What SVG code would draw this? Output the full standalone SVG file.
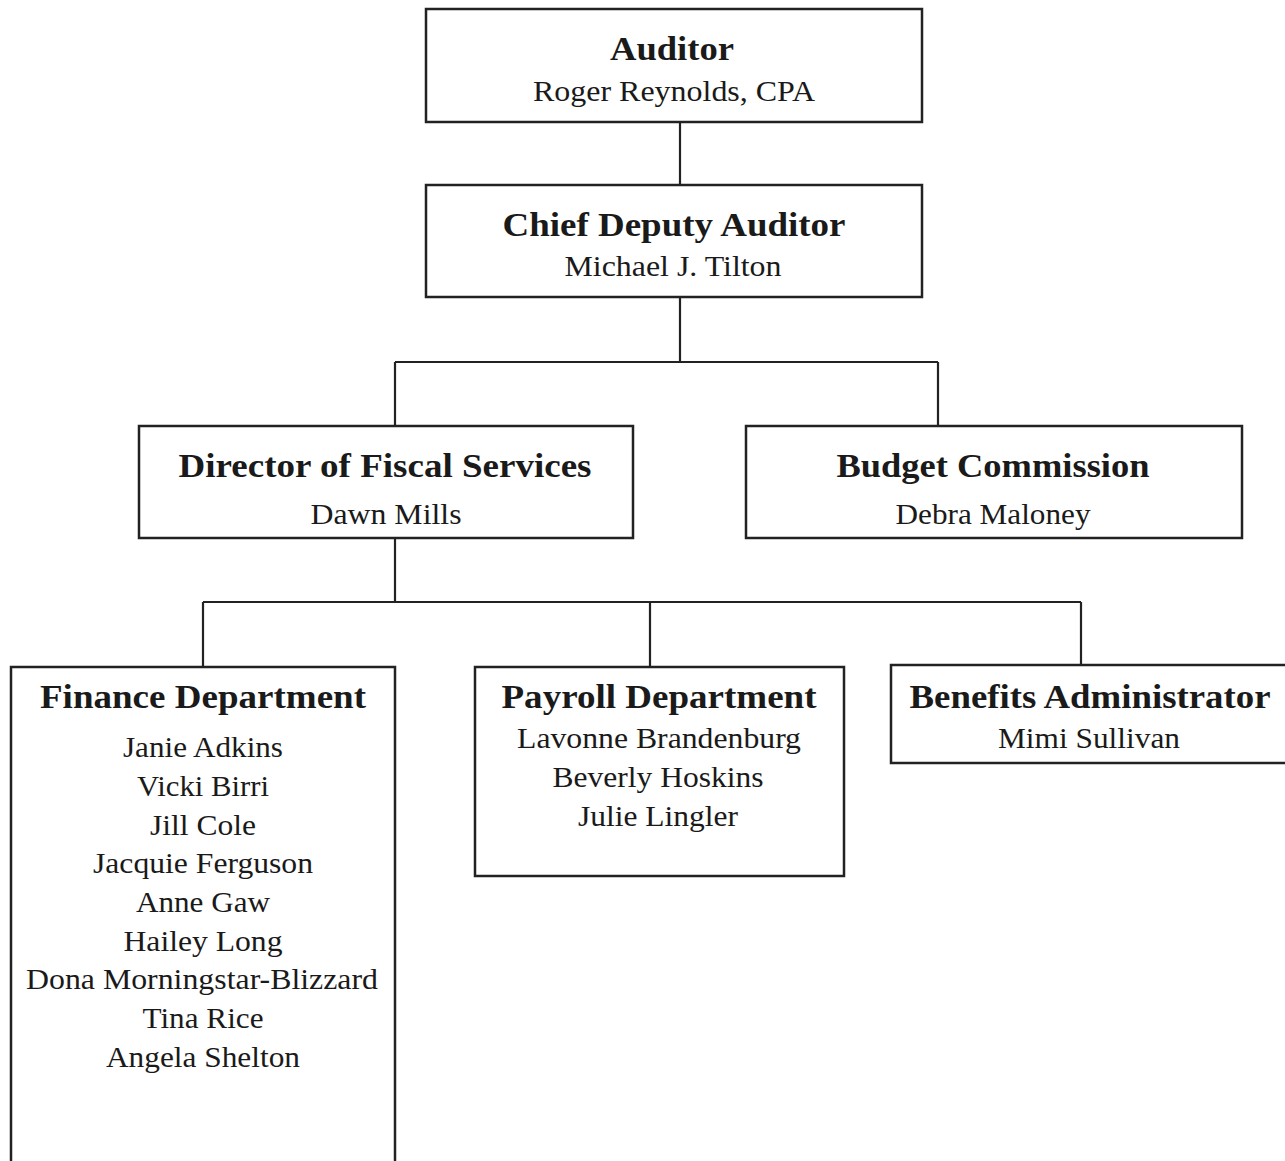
<svg xmlns="http://www.w3.org/2000/svg" width="1285" height="1161" viewBox="0 0 1285 1161">
<style>
.box{fill:#fff;stroke:#222;stroke-width:2.5}
.t{font-family:"Liberation Serif","Times New Roman",serif;font-weight:bold;font-size:33px;fill:#1a1a1a;text-anchor:middle}
.n{font-family:"Liberation Serif","Times New Roman",serif;font-size:30px;fill:#1a1a1a;text-anchor:middle}
.c{fill:none;stroke:#222;stroke-width:2.2}
</style>
<rect width="1285" height="1161" fill="#fff"/>
<g id="connectors">
<path class="c" d="M680 122V185"/>
<path class="c" d="M680 297V362M395 362H938M395 362V426M938 362V426"/>
<path class="c" d="M395 538V602M203 602H1081M203 602V667M650 602V667M1081 602V665"/>
</g>
<g id="auditor">
<rect class="box" x="426" y="9" width="496" height="113"/>
<text class="t" x="672" y="60" textLength="124" lengthAdjust="spacingAndGlyphs">Auditor</text>
<text class="n" x="674" y="101" textLength="282" lengthAdjust="spacingAndGlyphs">Roger Reynolds, CPA</text>
</g>
<g id="chief-deputy">
<rect class="box" x="426" y="185" width="496" height="112"/>
<text class="t" x="674" y="236" textLength="343" lengthAdjust="spacingAndGlyphs">Chief Deputy Auditor</text>
<text class="n" x="673" y="276" textLength="217" lengthAdjust="spacingAndGlyphs">Michael J. Tilton</text>
</g>
<g id="director">
<rect class="box" x="139" y="426" width="494" height="112"/>
<text class="t" x="385" y="477" textLength="413" lengthAdjust="spacingAndGlyphs">Director of Fiscal Services</text>
<text class="n" x="386" y="524" textLength="151" lengthAdjust="spacingAndGlyphs">Dawn Mills</text>
</g>
<g id="budget">
<rect class="box" x="746" y="426" width="496" height="112"/>
<text class="t" x="993" y="477" textLength="313" lengthAdjust="spacingAndGlyphs">Budget Commission</text>
<text class="n" x="993" y="524" textLength="195" lengthAdjust="spacingAndGlyphs">Debra Maloney</text>
</g>
<g id="finance">
<rect class="box" x="11" y="667" width="384" height="500"/>
<text class="t" x="203" y="708" textLength="326" lengthAdjust="spacingAndGlyphs">Finance Department</text>
<text class="n" x="203" y="757" textLength="160" lengthAdjust="spacingAndGlyphs">Janie Adkins</text>
<text class="n" x="203" y="796" textLength="132" lengthAdjust="spacingAndGlyphs">Vicki Birri</text>
<text class="n" x="203" y="835" textLength="106" lengthAdjust="spacingAndGlyphs">Jill Cole</text>
<text class="n" x="203" y="873" textLength="220" lengthAdjust="spacingAndGlyphs">Jacquie Ferguson</text>
<text class="n" x="203" y="912" textLength="134" lengthAdjust="spacingAndGlyphs">Anne Gaw</text>
<text class="n" x="203" y="951" textLength="159" lengthAdjust="spacingAndGlyphs">Hailey Long</text>
<text class="n" x="202" y="989" textLength="352" lengthAdjust="spacingAndGlyphs">Dona Morningstar-Blizzard</text>
<text class="n" x="203" y="1028" textLength="121" lengthAdjust="spacingAndGlyphs">Tina Rice</text>
<text class="n" x="203" y="1067" textLength="194" lengthAdjust="spacingAndGlyphs">Angela Shelton</text>
</g>
<g id="payroll">
<rect class="box" x="475" y="667" width="369" height="209"/>
<text class="t" x="659" y="708" textLength="315" lengthAdjust="spacingAndGlyphs">Payroll Department</text>
<text class="n" x="659" y="748" textLength="284" lengthAdjust="spacingAndGlyphs">Lavonne Brandenburg</text>
<text class="n" x="658" y="787" textLength="211" lengthAdjust="spacingAndGlyphs">Beverly Hoskins</text>
<text class="n" x="658" y="826" textLength="160" lengthAdjust="spacingAndGlyphs">Julie Lingler</text>
</g>
<g id="benefits">
<rect class="box" x="891" y="665" width="400" height="98"/>
<text class="t" x="1090" y="708" textLength="361" lengthAdjust="spacingAndGlyphs">Benefits Administrator</text>
<text class="n" x="1089" y="748" textLength="182" lengthAdjust="spacingAndGlyphs">Mimi Sullivan</text>
</g>
</svg>
